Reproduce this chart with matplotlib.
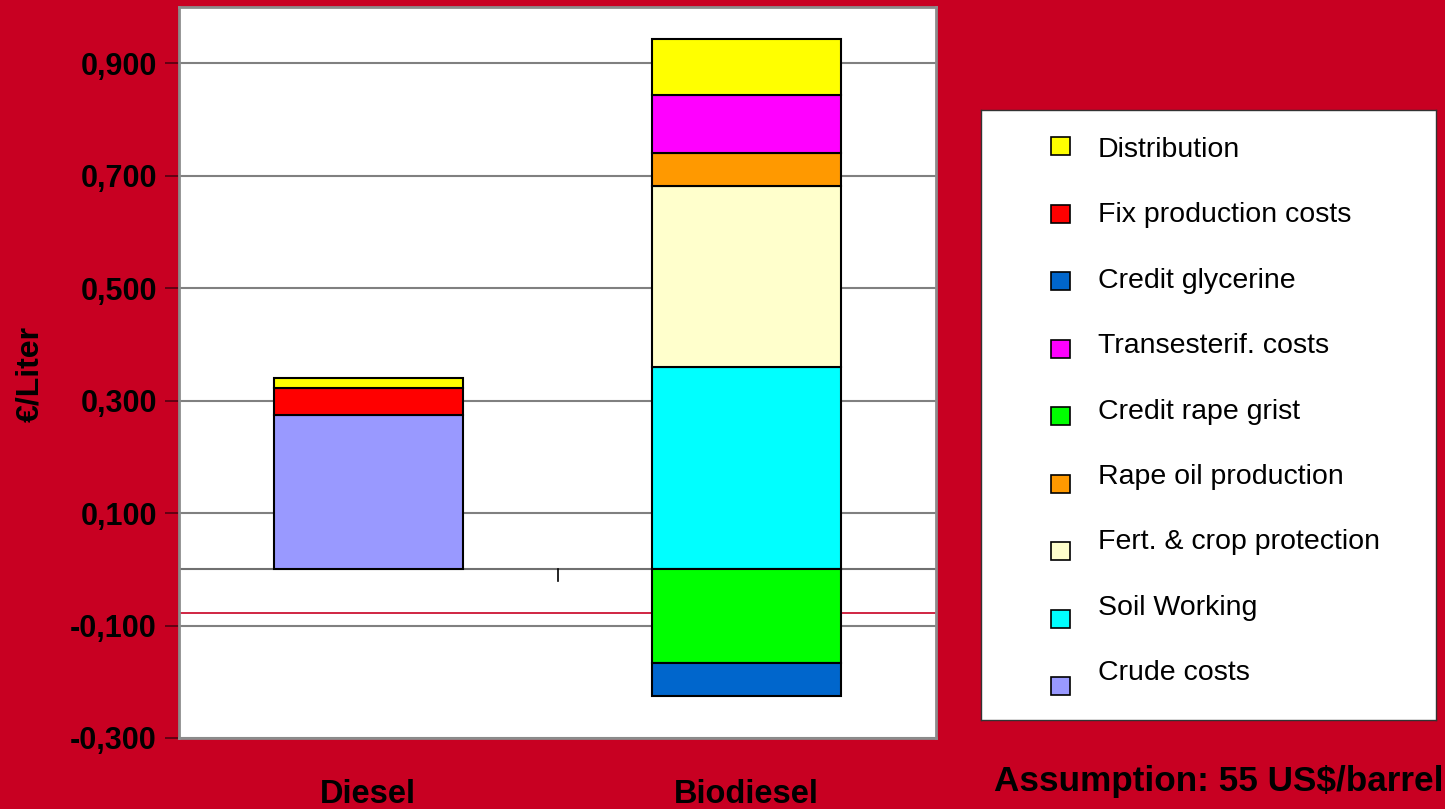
import matplotlib
matplotlib.use("Agg")
import matplotlib.pyplot as plt
from matplotlib.ticker import FuncFormatter
from matplotlib.patches import Rectangle
import numpy as np

plt.rcParams['font.family'] = ['Liberation Sans', 'DejaVu Sans']

# data (EUR per liter)
fuels = ['Diesel', 'Biodiesel']
series = ['Crude costs', 'Soil Working', 'Fert. & crop protection',
          'Rape oil production', 'Credit rape grist', 'Transesterif. costs',
          'Credit glycerine', 'Fix production costs', 'Distribution']
crude_costs = [0.275, 0.0]
soil_working = [0.0, 0.359]
fert_crop = [0.0, 0.322]
rape_oil = [0.0, 0.060]
credit_rape_grist = [0.0, -0.166]
transesterif = [0.0, 0.102]
credit_glycerine = [0.0, -0.059]
fix_production = [0.048, 0.0]
distribution = [0.018, 0.100]
values = [crude_costs, soil_working, fert_crop, rape_oil, credit_rape_grist,
          transesterif, credit_glycerine, fix_production, distribution]
colors = ['#9999FF', '#00FFFF', '#FFFFCC', '#FF9900', '#00FF00',
          '#FF00FF', '#0066CC', '#FF0000', '#FFFF00']
yticks = [-0.3, -0.1, 0.1, 0.3, 0.5, 0.7, 0.9]
ref_line = -0.077
note = 'Assumption: 55 US$/barrel'

bg = '#C80022'
fig = plt.figure(figsize=(14.45, 8.09), dpi=100, facecolor=bg)
ax = fig.add_axes([179/1445, 1-738/809, (936-179)/1445, (738-7)/809])
ax.set_facecolor('white')

x = np.arange(len(fuels))
pos = np.zeros(len(fuels))
neg = np.zeros(len(fuels))
for name, vals, c in zip(series, values, colors):
    v = np.array(vals)
    bottom = np.where(v >= 0, pos, neg)
    mask = v != 0
    ax.bar(x[mask], v[mask], bottom=bottom[mask], width=0.5, color=c,
           edgecolor='black', linewidth=1.5, zorder=3)
    pos = pos + np.where(v > 0, v, 0)
    neg = neg + np.where(v < 0, v, 0)

ax.set_xlim(-0.5, 1.5)
ax.set_ylim(-0.3, 1.0)
ax.set_yticks(yticks)
ax.yaxis.set_major_formatter(FuncFormatter(lambda v, p: f"{v:.3f}".replace('.', ',')))
ax.grid(axis='y', color='#808080', linewidth=1.5, zorder=1)
ax.axhline(0, color='#707070', linewidth=1.5, zorder=2)
ax.plot([0.5, 0.5], [0, -0.02], color='black', linewidth=1.2, zorder=2)
ax.axhline(ref_line, color=bg, linewidth=1.2, zorder=2)

ax.tick_params(axis='y', length=10, width=1.2, color='#500010',
               labelsize=22, pad=6)
for lab in ax.get_yticklabels():
    lab.set_fontweight('bold')
ax.set_xticks([])
for s in ax.spines.values():
    s.set_color('#8c8c8c')
    s.set_linewidth(2)

for xi, name in zip(x, fuels):
    ax.text(xi, -0.3 - 56/562, name, ha='center', va='center',
            fontsize=23.5, fontweight='bold')

fig.text(30/1445, 1-374/809, '€/Liter', rotation=90, ha='center', va='center',
         fontsize=23, fontweight='bold')

# legend box
lg = fig.add_axes([981/1445, 1-720/809, 455/1445, 610/809])
lg.set_xlim(981, 1436)
lg.set_ylim(720, 110)
lg.set_xticks([])
lg.set_yticks([])
for s in lg.spines.values():
    s.set_color('#333333')
    s.set_linewidth(1)
for i, (name, c) in enumerate(zip(series[::-1], colors[::-1])):
    ty = 150 + 65.4 * i
    my = 146 + 67.5 * i
    lg.add_patch(Rectangle((1051, my - 9), 19, 18, facecolor=c,
                           edgecolor='black', linewidth=1.2))
    lg.text(1098, ty, name, ha='left', va='center', fontsize=20.5)

fig.text(1444/1445, 1-782/809, note, ha='right', va='center',
         fontsize=25.3, fontweight='bold')

fig.savefig('out.png', dpi=100, facecolor=bg)
